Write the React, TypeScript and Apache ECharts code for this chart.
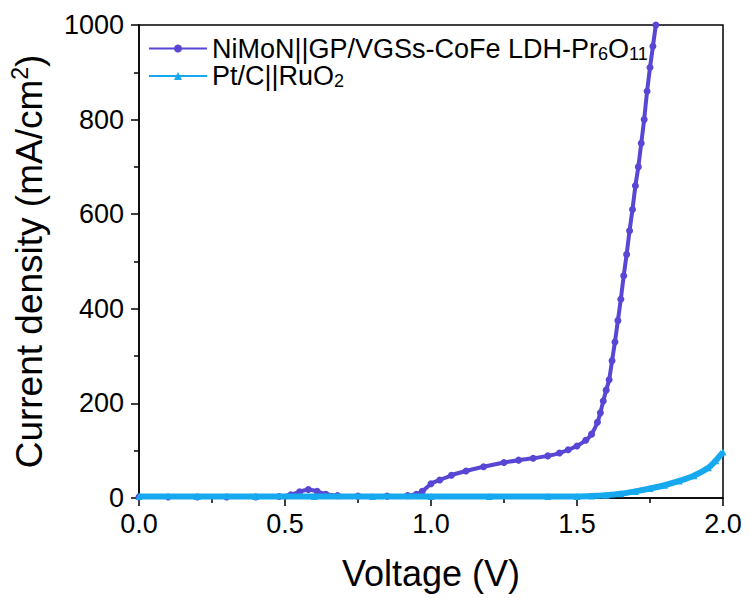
import React, { useEffect, useRef } from "react";
import * as echarts from "echarts";

const purpleName = "NiMoN||GP/VGSs-CoFe LDH-Pr6O11";
const blueName = "Pt/C||RuO2";

const purpleVoltage = [
  0.0, 0.1, 0.2, 0.3, 0.4, 0.48, 0.52, 0.55, 0.58, 0.61, 0.64, 0.68, 0.75, 0.85,
  0.92, 0.95, 0.97, 1.0, 1.03, 1.07, 1.12, 1.18, 1.25, 1.3, 1.35, 1.4, 1.44, 1.47,
  1.5, 1.53, 1.55, 1.57, 1.58, 1.59, 1.6, 1.61, 1.62, 1.63, 1.64, 1.65, 1.66, 1.67,
  1.68, 1.69, 1.7, 1.71, 1.72, 1.73, 1.74, 1.75, 1.76, 1.77,
];
const purpleCurrent = [
  2, 2, 2, 2, 2, 3, 7, 13, 18, 14, 8, 5, 4, 4,
  5, 8, 14, 30, 38, 48, 57, 66, 75, 80, 84, 89, 95, 102,
  110, 122, 135, 160, 180, 205, 228, 250, 290, 330, 375, 420, 470, 515,
  565, 610, 660, 700, 750, 800, 860, 910, 955, 1000,
];

const blueVoltage = [
  0.0, 0.2, 0.4, 0.6, 0.8, 1.0, 1.2, 1.4, 1.5, 1.55, 1.6, 1.65, 1.7, 1.75, 1.8,
  1.85, 1.9, 1.95, 1.975, 2.0,
];
const blueCurrent = [
  3, 3, 3, 3, 3, 3, 3, 3, 3, 4, 6, 9, 14, 20, 27, 36, 47, 64, 79, 97,
];

const xTicks = [0, 0.5, 1.0, 1.5, 2.0];
const yTicks = [0, 200, 400, 600, 800, 1000];

const FONT = "'Liberation Sans', Arial, sans-serif";

export default function App() {
  const ref = useRef<HTMLDivElement>(null);

  useEffect(() => {
    if (!ref.current) return;
    const chart = echarts.init(ref.current, undefined, { renderer: "svg" });
    const purpleData = purpleVoltage.map((v, i) => [v, purpleCurrent[i]]);
    const blueData = blueVoltage.map((v, i) => [v, blueCurrent[i]]);

    chart.setOption({
      animation: false,
      backgroundColor: "#fff",
      textStyle: { fontFamily: FONT, color: "#000" },
      grid: {
        left: 137,
        right: 26,
        top: 25,
        bottom: 100,
        show: true,
        borderColor: "#000",
        borderWidth: 1.5,
      },
      legend: {
        left: 143,
        top: 30,
        orient: "vertical",
        itemWidth: 58,
        itemHeight: 10,
        itemGap: 0,
        data: [purpleName, blueName],
        formatter: (name: string) =>
          name === purpleName
            ? "{t|NiMoN||GP/VGSs-CoFe LDH-Pr}{s|6}{t|O}{s|11}"
            : "{t|Pt/C||RuO}{s|2}",
        textStyle: {
          fontFamily: FONT,
          color: "#000",
          rich: {
            t: { fontSize: 27, lineHeight: 28, fontFamily: FONT, color: "#000" },
            s: {
              fontSize: 18,
              lineHeight: 12,
              verticalAlign: "bottom",
              fontFamily: FONT,
              color: "#000",
            },
          },
        },
      },
      xAxis: {
        type: "value",
        min: xTicks[0],
        max: xTicks[xTicks.length - 1],
        interval: 0.5,
        name: "Voltage (V)",
        nameLocation: "middle",
        nameGap: 57,
        nameTextStyle: { fontSize: 36, fontFamily: FONT, color: "#000" },
        axisLine: { show: true, lineStyle: { color: "#000", width: 1.5 } },
        axisTick: { show: true, inside: false, length: 8, lineStyle: { color: "#000", width: 1.5 } },
        minorTick: { show: true, splitNumber: 2, length: 5, lineStyle: { color: "#000", width: 1.5 } },
        splitLine: { show: false },
        axisLabel: {
          fontSize: 27,
          color: "#000",
          fontFamily: FONT,
          margin: 12,
          formatter: (v: number) => v.toFixed(1),
        },
      },
      yAxis: {
        type: "value",
        min: yTicks[0],
        max: yTicks[yTicks.length - 1],
        interval: 200,
        name: "{a|Current density (mA/cm}{p|2}{a|)}",
        nameLocation: "middle",
        nameRotate: 90,
        nameGap: 89,
        nameTextStyle: {
          fontSize: 37,
          fontFamily: FONT,
          color: "#000",
          rich: {
            a: { fontSize: 37, lineHeight: 42, fontFamily: FONT, color: "#000" },
            p: { fontSize: 23, lineHeight: 22, verticalAlign: "top", fontFamily: FONT, color: "#000" },
          },
        },
        axisLine: { show: true, lineStyle: { color: "#000", width: 1.5 } },
        axisTick: { show: true, inside: false, length: 8, lineStyle: { color: "#000", width: 1.5 } },
        minorTick: { show: true, splitNumber: 2, length: 5, lineStyle: { color: "#000", width: 1.5 } },
        splitLine: { show: false },
        axisLabel: {
          fontSize: 27,
          color: "#000",
          fontFamily: FONT,
          margin: 15,
          formatter: (v: number) => String(v),
        },
      },
      series: [
        {
          name: purpleName,
          type: "line",
          data: purpleData,
          color: "#5846D4",
          lineStyle: { width: 4, color: "#5846D4" },
          itemStyle: { color: "#5846D4" },
          symbol: "circle",
          symbolSize: 7,
          showSymbol: true,
          smooth: 0.2,
          clip: true,
          z: 2,
        },
        {
          name: blueName,
          type: "line",
          data: blueData,
          color: "#16A9F0",
          lineStyle: { width: 6, color: "#16A9F0" },
          itemStyle: { color: "#16A9F0" },
          symbol: "triangle",
          symbolSize: 7,
          showSymbol: true,
          smooth: 0.3,
          clip: true,
          z: 3,
        },
      ],
    });
    return () => chart.dispose();
  }, []);

  return <div ref={ref} style={{ width: 749, height: 598, position: "absolute", left: 0, top: 0 }} />;
}
